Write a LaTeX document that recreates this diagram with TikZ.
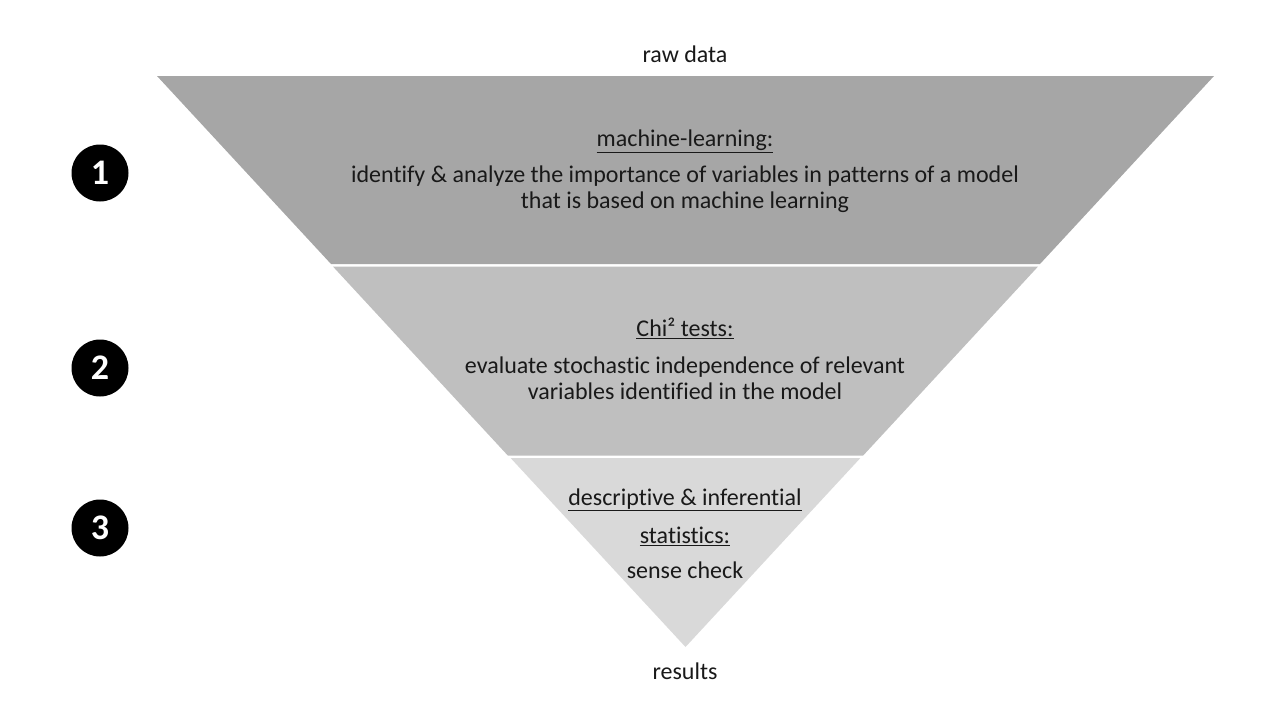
\documentclass[tikz,border=0pt]{standalone}
\usepackage{fontspec}
\setmainfont{Carlito}[RawFeature={-liga}]
\begin{document}
\begin{tikzpicture}[x=1pt,y=-1pt,
  txt/.style={inner sep=0pt,anchor=base,text=black!90,font=\fontsize{24}{25.5}\selectfont},
  num/.style={circle,fill=black,minimum size=57pt,inner sep=0pt,text=white,font=\fontsize{36}{36}\selectfont\bfseries}]
\useasboundingbox (0,0) rectangle (1280,720);
\definecolor{bandA}{RGB}{166,166,166}
\definecolor{bandB}{RGB}{191,191,191}
\definecolor{bandC}{RGB}{217,217,217}
\fill[bandA] (157,76) -- (1214,76) -- (1040,264) -- (331,264) -- cycle;
\fill[bandB] (332.9,266.5) -- (1038.1,266.5) -- (863.2,455.5) -- (507.8,455.5) -- cycle;
\fill[bandC] (510.6,458) -- (860.4,458) -- (685.5,647) -- cycle;
\node[txt] (raw) at (685,62.3) {raw data};
\node[txt] (res) at (685,679.3) {results};
\node[txt] (t1) at (685,146.7) {\underline{machine-learning:}};
\node[txt] (b1a) at (685,182.7) {identify \& analyze the importance of variables in patterns of a model};
\node[txt] (b1b) at (685,208.3) {that is based on machine learning};
\node[txt] (t2) at (685,336.7) {\underline{Chi² tests:}};
\node[txt] (b2a) at (685,373.3) {evaluate stochastic independence of relevant};
\node[txt] (b2b) at (685,399.3) {variables identified in the model};
\node[txt] (t3a) at (685,505) {\underline{descriptive \& inferential}};
\node[txt] (t3b) at (685,543.3) {\underline{statistics:}};
\node[txt] (b3) at (685,578.3) {sense check};
\node[num] (n1) at (100,173) {1};
\node[num] (n2) at (100,368) {2};
\node[num] (n3) at (100,528) {3};
\end{tikzpicture}
\end{document}
